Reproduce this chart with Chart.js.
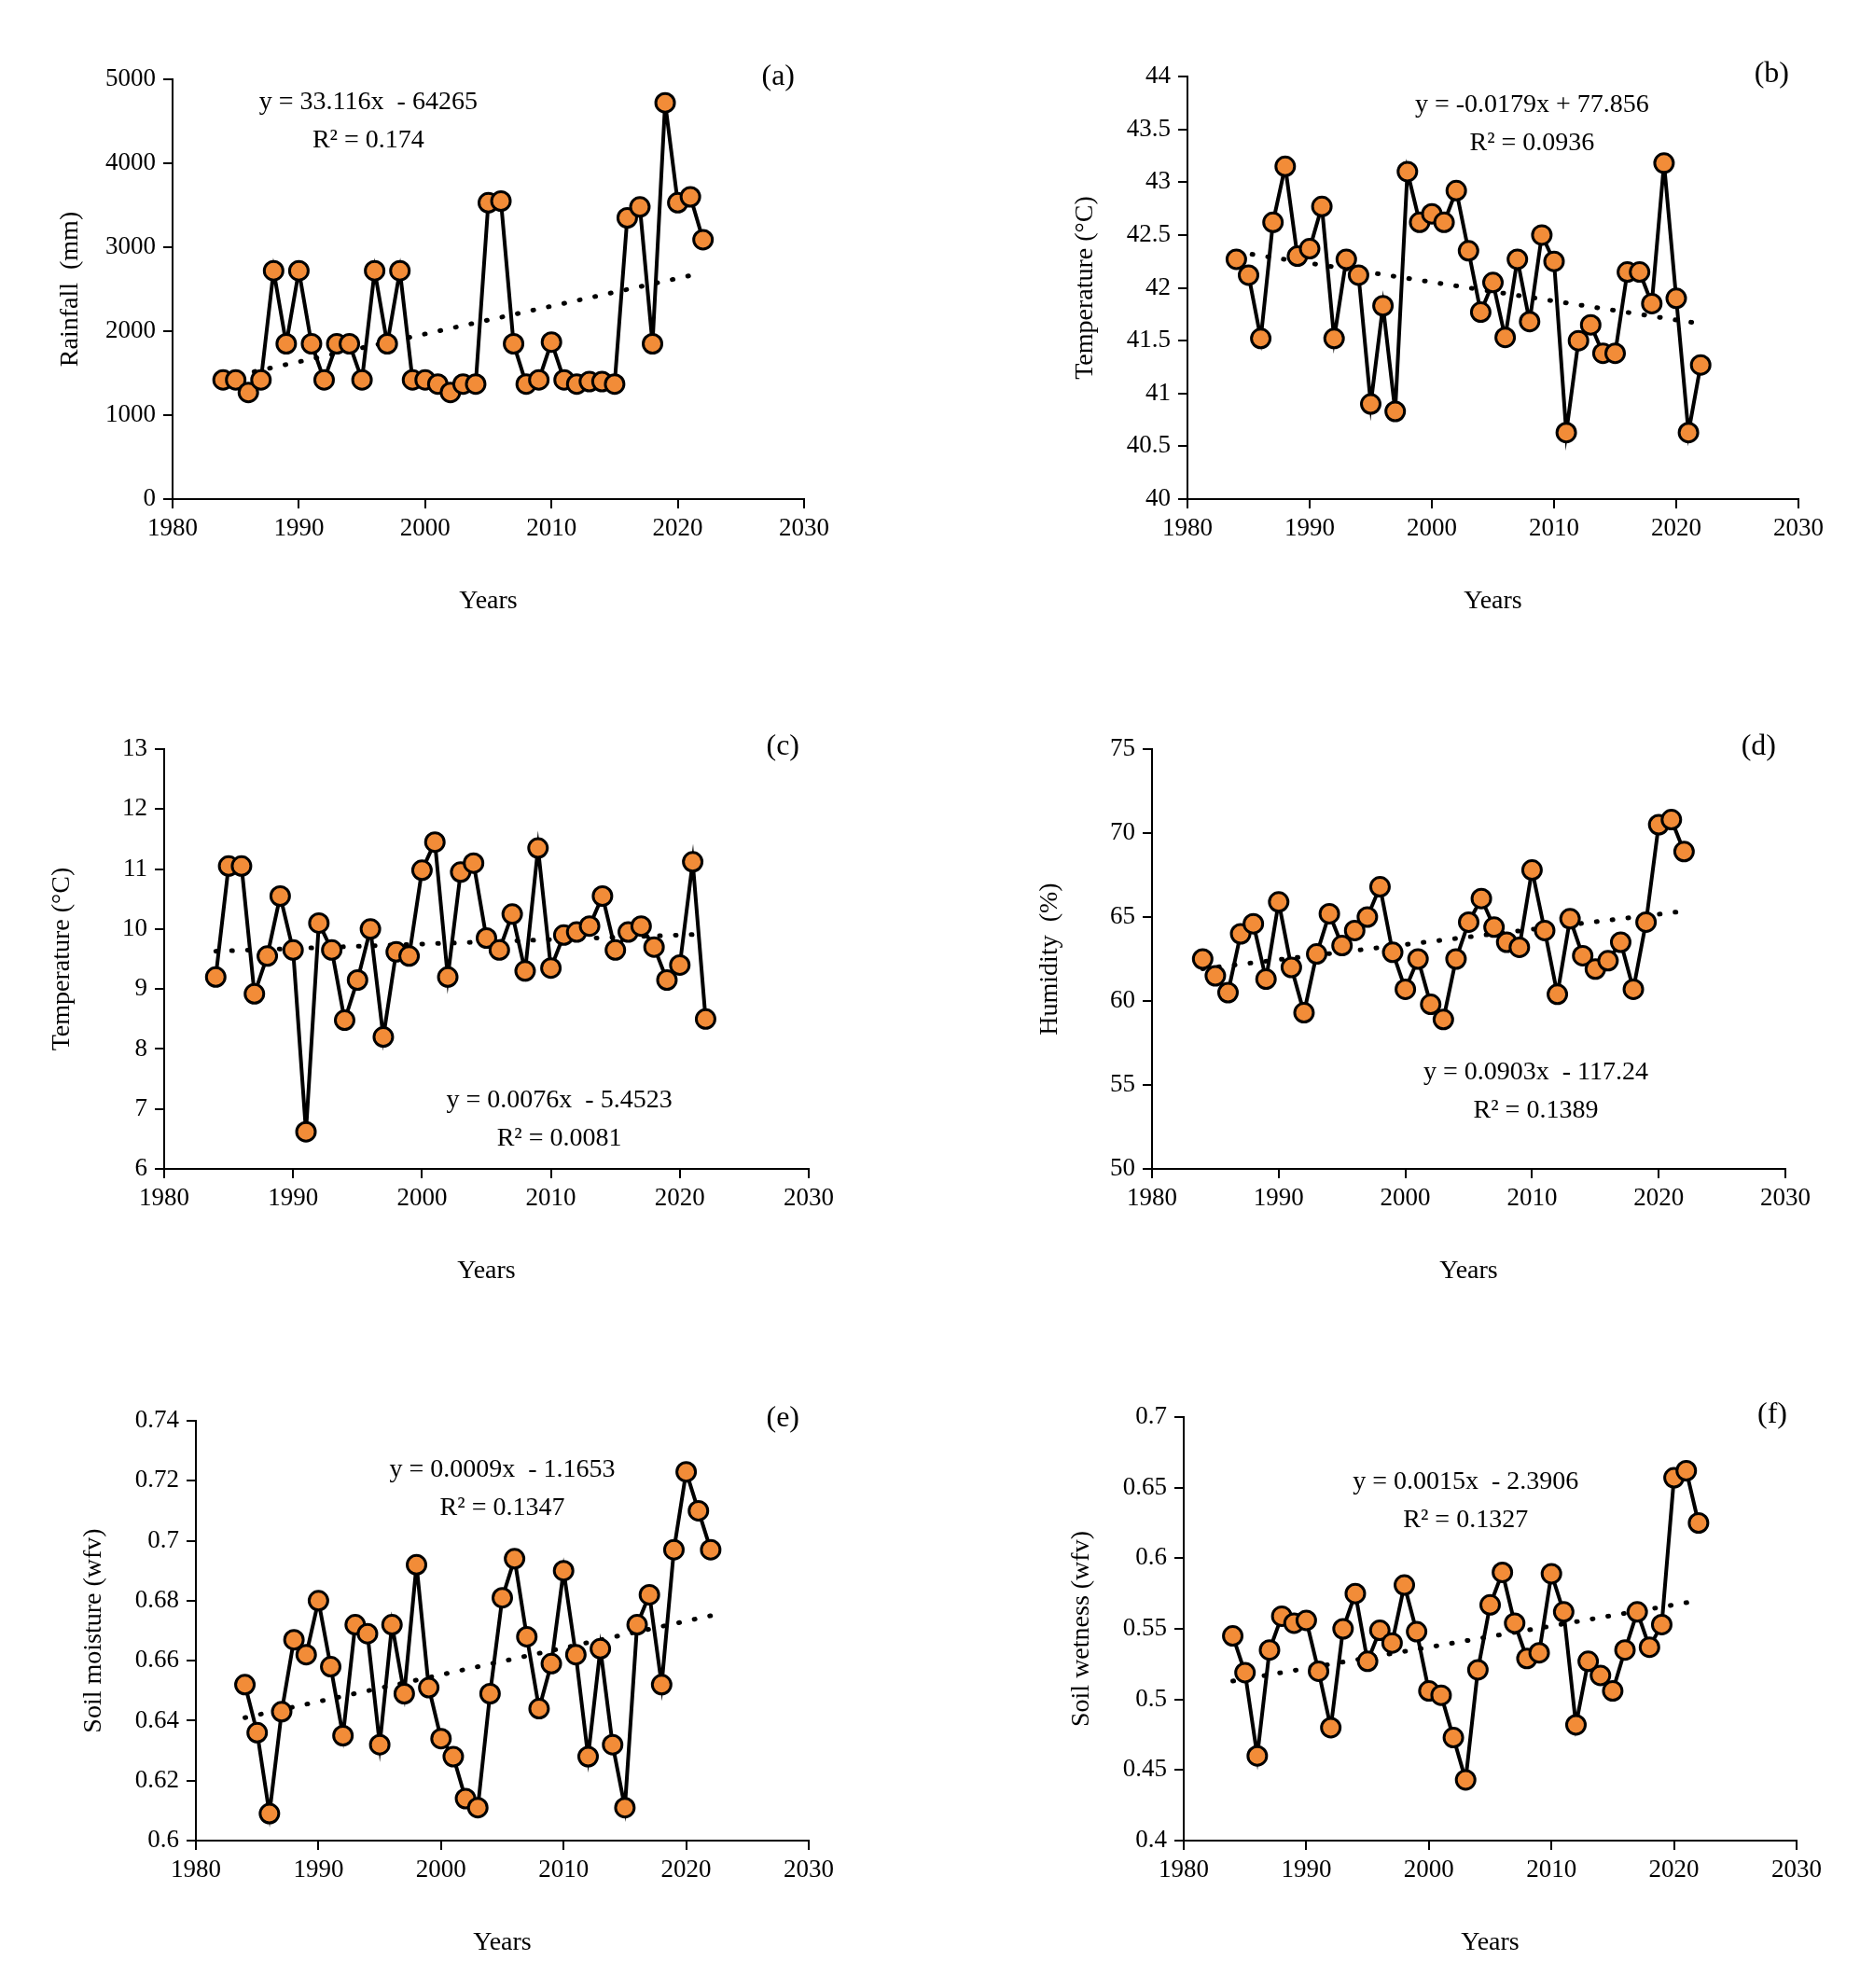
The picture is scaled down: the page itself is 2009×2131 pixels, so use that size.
<!DOCTYPE html>
<html>
<head>
<meta charset="utf-8">
<script src="https://cdn.jsdelivr.net/npm/chart.js@4"></script>
<style>
  body { margin: 0; background: #fff; }
  #wrap { position: relative; width: 2009px; height: 2131px; }
  .box { position: absolute; }
</style>
</head>
<body>
<div id="wrap"></div>
<script>
const years = [];
for (let y = 1984; y <= 2022; y++) years.push(y);

const rainfall = [1420,1420,1270,1420,2720,1850,2720,1850,1420,1850,1850,1420,2720,1850,2720,1420,1420,1370,1270,1370,1370,3530,3550,1850,1370,1420,1870,1420,1370,1400,1400,1370,3350,3480,1850,4720,3530,3600,3090];
const tempMax = [42.27,42.12,41.52,42.62,43.15,42.3,42.37,42.77,41.52,42.27,42.12,40.9,41.83,40.83,43.1,42.62,42.7,42.62,42.92,42.35,41.77,42.05,41.53,42.27,41.68,42.5,42.25,40.63,41.5,41.65,41.38,41.38,42.15,42.15,41.85,43.18,41.9,40.63,41.27];
const tempMin = [9.2,11.05,11.05,8.92,9.55,10.55,9.65,6.62,10.1,9.65,8.48,9.15,10.0,8.2,9.62,9.55,10.98,11.45,9.2,10.95,11.1,9.85,9.65,10.25,9.3,11.35,9.35,9.9,9.95,10.05,10.55,9.65,9.95,10.05,9.7,9.15,9.4,11.12,8.5];
const humidity = [62.5,61.5,60.5,64,64.6,61.3,65.9,62,59.3,62.8,65.2,63.3,64.2,65,66.8,62.9,60.7,62.5,59.8,58.9,62.5,64.7,66.1,64.4,63.5,63.2,67.8,64.2,60.4,64.9,62.7,61.9,62.4,63.5,60.7,64.7,70.5,70.8,68.9];
const soilMoisture = [0.652,0.636,0.609,0.643,0.667,0.662,0.68,0.658,0.635,0.672,0.669,0.632,0.672,0.649,0.692,0.651,0.634,0.628,0.614,0.611,0.649,0.681,0.694,0.668,0.644,0.659,0.69,0.662,0.628,0.664,0.632,0.611,0.672,0.682,0.652,0.697,0.723,0.71,0.697];
const soilWetness = [0.545,0.519,0.46,0.535,0.559,0.554,0.556,0.52,0.48,0.55,0.575,0.527,0.549,0.54,0.581,0.548,0.506,0.503,0.473,0.443,0.521,0.567,0.59,0.554,0.529,0.533,0.589,0.562,0.482,0.527,0.517,0.506,0.535,0.562,0.537,0.553,0.657,0.662,0.625];

// trend line end values (1984, 2022)
const trendRain = [1437, 2696];
const trendTmax = [42.34, 41.66];
const trendTmin = [9.63, 9.915];
const trendHum = [61.92, 65.35];
const trendSm = [0.641, 0.675];
const trendSw = [0.513, 0.57];

const panels = [
  { id: "(a)", vals: rainfall, trend: trendRain, min: 0, max: 5000, step: 1000, title: "Rainfall  (mm)",
    eq: "y = 33.116x  - 64265", r2: "R² = 0.174", ex: 0.31, ey: 0.055, left: 185, top: 85, w: 677, h: 450 },
  { id: "(b)", vals: tempMax, trend: trendTmax, min: 40, max: 44, step: 0.5, title: "Temperature (°C)",
    eq: "y = -0.0179x + 77.856", r2: "R² = 0.0936", ex: 0.564, ey: 0.067, left: 1273, top: 82, w: 655, h: 453 },
  { id: "(c)", vals: tempMin, trend: trendTmin, min: 6, max: 13, step: 1, title: "Temperature (°C)",
    eq: "y = 0.0076x  - 5.4523", r2: "R² = 0.0081", ex: 0.613, ey: 0.838, left: 176, top: 803, w: 691, h: 450 },
  { id: "(d)", vals: humidity, trend: trendHum, min: 50, max: 75, step: 5, title: "Humidity  (%)",
    eq: "y = 0.0903x  - 117.24", r2: "R² = 0.1389", ex: 0.606, ey: 0.771, left: 1235, top: 803, w: 679, h: 450 },
  { id: "(e)", vals: soilMoisture, trend: trendSm, min: 0.6, max: 0.74, step: 0.02, title: "Soil moisture (wfv)",
    eq: "y = 0.0009x  - 1.1653", r2: "R² = 0.1347", ex: 0.5, ey: 0.116, left: 210, top: 1523, w: 657, h: 450 },
  { id: "(f)", vals: soilWetness, trend: trendSw, min: 0.4, max: 0.7, step: 0.05, title: "Soil wetness (wfv)",
    eq: "y = 0.0015x  - 2.3906", r2: "R² = 0.1327", ex: 0.46, ey: 0.154, left: 1269, top: 1519, w: 657, h: 454 },
];

const FONT = "'Liberation Serif', 'Times New Roman', serif";
const Y_W = 130, X_H = 130, PAD_T = 30, PAD_R = 40;

const textPlugin = {
  id: "panelText",
  afterDraw(chart, args, opts) {
    const { ctx, chartArea: a } = chart;
    const w = a.right - a.left, h = a.bottom - a.top;
    ctx.save();
    ctx.fillStyle = "#000";
    ctx.font = "28px " + FONT;
    ctx.textAlign = "center";
    ctx.textBaseline = "middle";
    ctx.fillText(opts.eq, a.left + opts.ex * w, a.top + opts.ey * h);
    ctx.fillText(opts.r2, a.left + opts.ex * w, a.top + opts.ey * h + 41);
    ctx.font = "32px " + FONT;
    ctx.textAlign = "right";
    ctx.fillText(opts.id, a.right - 10, a.top - 2);
    ctx.restore();
  }
};

const wrap = document.getElementById("wrap");
panels.forEach((p) => {
  const box = document.createElement("div");
  box.className = "box";
  const cw = p.w + Y_W + PAD_R, ch = p.h + X_H + PAD_T;
  box.style.left = (p.left - Y_W) + "px";
  box.style.top = (p.top - PAD_T) + "px";
  box.style.width = cw + "px";
  box.style.height = ch + "px";
  box.innerHTML = "<canvas></canvas>";
  wrap.appendChild(box);

  new Chart(box.querySelector("canvas"), {
    type: "line",
    data: {
      datasets: [
        {
          data: years.map((y, i) => ({ x: y, y: p.vals[i] })),
          borderColor: "#000",
          borderWidth: 4,
          pointRadius: 10,
          pointBackgroundColor: "#F28C38",
          pointBorderColor: "#000",
          pointBorderWidth: 3,
          tension: 0,
          order: 1,
        },
        {
          data: [{ x: 1984, y: p.trend[0] }, { x: 2022, y: p.trend[1] }],
          borderColor: "#000",
          borderWidth: 5,
          borderDash: [1, 16],
          borderCapStyle: "round",
          pointRadius: 0,
          order: 2,
        },
      ],
    },
    options: {
      responsive: true,
      maintainAspectRatio: false,
      animation: false,
      layout: { padding: { top: PAD_T, right: PAD_R, left: 0, bottom: 0 } },
      plugins: {
        legend: { display: false },
        tooltip: { enabled: false },
        panelText: p,
      },
      scales: {
        x: {
          type: "linear",
          min: 1980, max: 2030,
          afterFit: (s) => { s.height = X_H; },
          ticks: { stepSize: 10, color: "#000", font: { family: FONT, size: 27 }, padding: 6, callback: (v) => String(v) },
          grid: { drawOnChartArea: false, color: "#000", lineWidth: 2, tickLength: 10, tickColor: "#000" },
          border: { color: "#000", width: 2 },
          title: { display: true, text: "Years", color: "#000", font: { family: FONT, size: 28 }, padding: { top: 8 } },
        },
        y: {
          min: p.min, max: p.max,
          afterFit: (s) => { s.width = Y_W; },
          ticks: { stepSize: p.step, color: "#000", font: { family: FONT, size: 27 }, padding: 8,
                   callback: (v) => String(+v.toFixed(4)) },
          grid: { drawOnChartArea: false, color: "#000", lineWidth: 2, tickLength: 10, tickColor: "#000" },
          border: { color: "#000", width: 2 },
          title: { display: true, text: p.title, color: "#000", font: { family: FONT, size: 28 }, padding: { bottom: 4 } },
        },
      },
    },
    plugins: [textPlugin],
  });
});
</script>
</body>
</html>
